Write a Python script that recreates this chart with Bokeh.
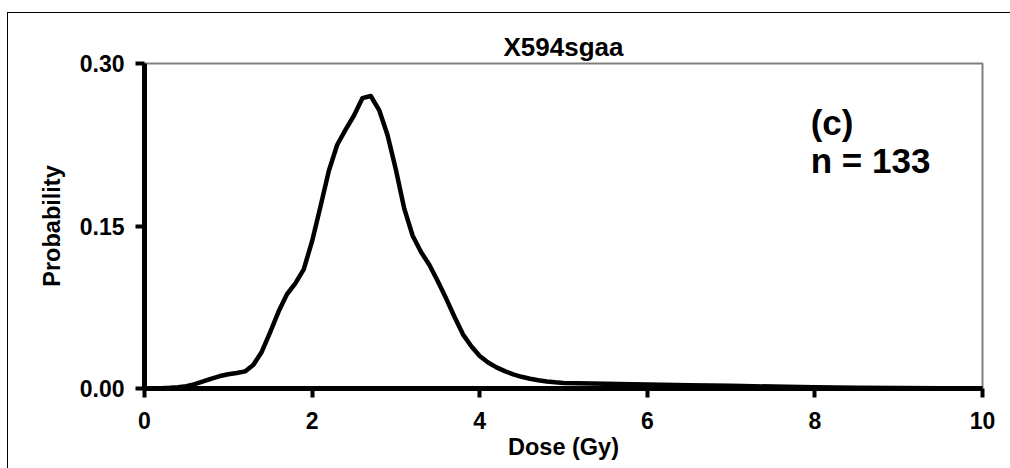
from bokeh.plotting import figure
from bokeh.models import Range1d, FixedTicker, Label, NumeralTickFormatter
from bokeh.embed import file_html
from bokeh.resources import INLINE

# ---- data ----
dose = [0.0, 0.1, 0.2, 0.3, 0.4, 0.5, 0.6, 0.7, 0.8, 0.9,
        1.0, 1.1, 1.2, 1.3, 1.4, 1.5, 1.6, 1.7, 1.8, 1.9,
        2.0, 2.1, 2.2, 2.3, 2.4, 2.5, 2.6, 2.7, 2.8, 2.9,
        3.0, 3.1, 3.2, 3.3, 3.4, 3.5, 3.6, 3.7, 3.8, 3.9,
        4.0, 4.1, 4.2, 4.3, 4.4, 4.5, 4.6, 4.7, 4.8, 4.9,
        5.0, 5.5, 6.0, 6.5, 7.0, 7.5, 8.0, 8.5, 9.0, 9.5, 10.0]
probability = [0.0, 0.0, 0.0003, 0.0006, 0.0012, 0.0022, 0.0040, 0.0065, 0.0092, 0.0115,
               0.0132, 0.0143, 0.0158, 0.0220, 0.0340, 0.0520, 0.0710, 0.0870, 0.0970, 0.1100,
               0.1360, 0.1680, 0.2010, 0.2250, 0.2390, 0.2520, 0.2680, 0.2700, 0.2570, 0.2340,
               0.2020, 0.1660, 0.1410, 0.1260, 0.1140, 0.0990, 0.0830, 0.0660, 0.0500, 0.0390,
               0.0300, 0.0240, 0.0195, 0.0160, 0.0130, 0.0108, 0.0090, 0.0076, 0.0065, 0.0057,
               0.0051, 0.0043, 0.0037, 0.0031, 0.0025, 0.0018, 0.0012, 0.0008, 0.0005, 0.0003, 0.0001]
x_ticks = [0, 2, 4, 6, 8, 10]
y_ticks = [0.0, 0.15, 0.30]
title_text = "X594sgaa"
x_label = "Dose (Gy)"
y_label = "Probability"
panel_label = "(c)"
n_label = "n = 133"

FONT = "Liberation Sans"

p = figure(width=1003, height=456, output_backend="svg", toolbar_location=None,
           x_range=Range1d(0, 10), y_range=Range1d(0, 0.30),
           min_border_left=136, min_border_right=29, min_border_top=50, min_border_bottom=81,
           background_fill_color="white", border_fill_color="white",
           margin=(12, 0, 0, 7))
p.styles = {"border-left": "1.5px solid black", "border-top": "1.5px solid black"}

p.title.text = title_text
p.title.align = "center"
p.title.offset = -50
p.title.text_font = FONT
p.title.text_font_style = "bold"
p.title.text_font_size = "26px"
p.title.text_color = "black"
p.title.standoff = 4

p.outline_line_color = "#808080"
p.outline_line_width = 2
p.xgrid.visible = False
p.ygrid.visible = False

for ax in (p.xaxis[0], p.yaxis[0]):
    ax.axis_line_width = 5
    ax.axis_line_color = "black"
    ax.major_tick_line_width = 4
    ax.major_tick_line_color = "black"
    ax.major_tick_out = 9
    ax.major_tick_in = 0
    ax.minor_tick_line_color = None
    ax.major_label_text_font = FONT
    ax.major_label_text_font_style = "bold"
    ax.major_label_text_font_size = "23px"
    ax.major_label_text_color = "black"
    ax.axis_label_text_font = FONT
    ax.axis_label_text_font_style = "bold"
    ax.axis_label_text_font_size = "23.5px"
    ax.axis_label_text_color = "black"

p.xaxis.ticker = FixedTicker(ticks=x_ticks)
p.yaxis.ticker = FixedTicker(ticks=y_ticks)
p.yaxis.formatter = NumeralTickFormatter(format="0.00")
p.xaxis.axis_label = x_label
p.yaxis.axis_label = y_label
p.xaxis.major_label_standoff = 14
p.xaxis.axis_label_standoff = 2
p.yaxis.major_label_standoff = 11
p.yaxis.axis_label_standoff = 12

p.line(dose, probability, line_color="black", line_width=4.5, line_join="round")

p.add_layout(Label(x=7.95, y=0.2458, text=panel_label, text_font=FONT, text_font_style="bold",
                   text_font_size="35px", text_color="black", text_baseline="alphabetic"))
p.add_layout(Label(x=7.95, y=0.2107, text=n_label, text_font=FONT, text_font_style="bold",
                   text_font_size="35px", text_color="black", text_baseline="alphabetic"))

open("out.html", "w").write(file_html(p, INLINE))
